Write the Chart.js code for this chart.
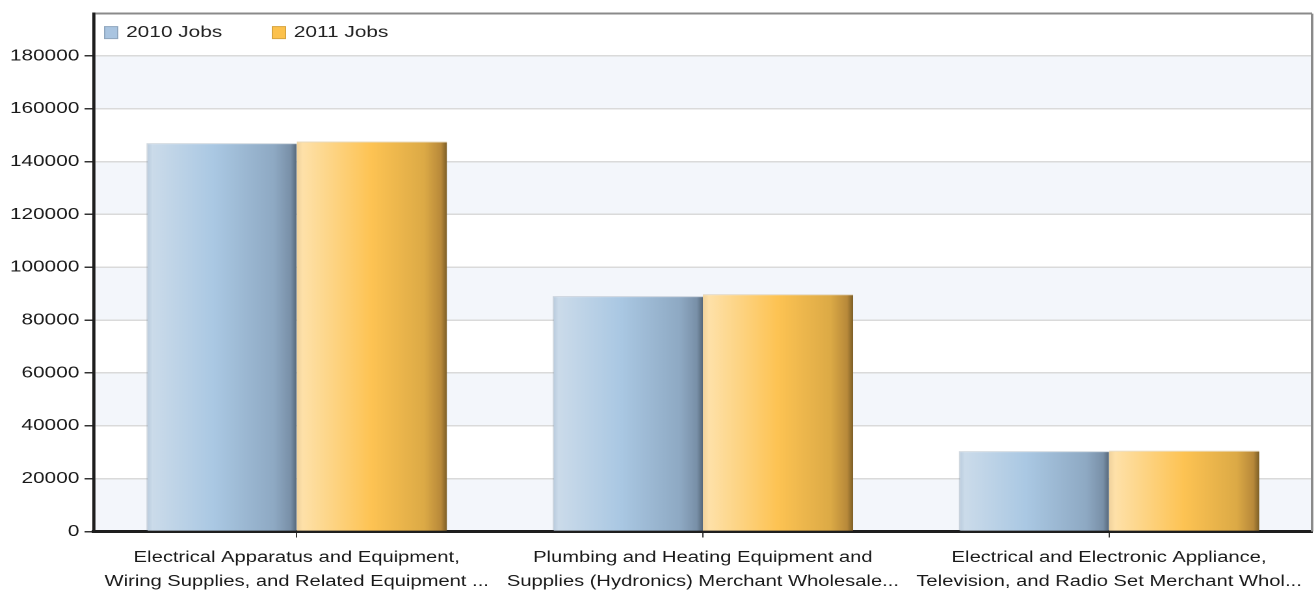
<!DOCTYPE html>
<html>
<head>
    <meta charset="UTF-8" />
    <title>Jobs 2010 vs 2011</title>
    <script src="https://cdn.jsdelivr.net/npm/chart.js"></script>
    <style>
        html, body { margin: 0; padding: 0; background: #fff; overflow: hidden; }
        /* the reference is stretched sideways, so draw narrow and widen */
        #wrap { width: 1012px; height: 593px; transform-origin: 0 0; transform: scaleX(1.3004); }
    </style>
</head>
<body>
    <div id="wrap"><canvas id="chart"></canvas></div>

    <script>
        const categories = [
            ['Electrical Apparatus and Equipment,', 'Wiring Supplies, and Related Equipment ...'],
            ['Plumbing and Heating Equipment and', 'Supplies (Hydronics) Merchant Wholesale...'],
            ['Electrical and Electronic Appliance,', 'Television, and Radio Set Merchant Whol...']
        ];
        const seriesNames = ['2010 Jobs', '2011 Jobs'];
        const jobs2010 = [147000, 89100, 30400];
        const jobs2011 = [147600, 89800, 30600];
        const yTickMax = 180000;
        const yStep = 20000;

        const font = 'Liberation Sans, Arial, sans-serif';

        // gradient stops for each series (left to right across a bar)
        const barStops = [
            [[0, '#b7c9db'], [0.04, '#cbdbea'], [0.45, '#aac8e3'], [0.85, '#8ea9c3'], [0.96, '#7990a8'], [1, '#56687a']],
            [[0, '#f0d29c'], [0.04, '#fee1a9'], [0.5, '#fdc353'], [0.85, '#dcaa46'], [0.96, '#b8893a'], [1, '#7c5e26']]
        ];
        const legendColors = ['#a9c4e0', '#fcc14c'];

        const bandsPlugin = {
            id: 'bands',
            beforeDraw(chart) {
                const { ctx, chartArea } = chart;
                const y = chart.scales.y;
                ctx.save();
                ctx.fillStyle = '#f3f6fb';
                for (let v = 0; v < yTickMax; v += yStep * 2) {
                    const top = y.getPixelForValue(v + yStep);
                    const bottom = y.getPixelForValue(v);
                    ctx.fillRect(chartArea.left, top, chartArea.right - chartArea.left, bottom - top);
                }
                ctx.restore();
            },
            beforeDatasetsDraw(chart) {
                const { ctx } = chart;
                chart.data.datasets.forEach((ds, i) => {
                    const meta = chart.getDatasetMeta(i);
                    meta.data.forEach(bar => {
                        const left = bar.x - bar.width / 2;
                        const g = ctx.createLinearGradient(left, 0, left + bar.width, 0);
                        barStops[i].forEach(s => g.addColorStop(s[0], s[1]));
                        bar.options = Object.assign({}, bar.options, { backgroundColor: g });
                    });
                });
            },
            afterDraw(chart) {
                const { ctx, chartArea } = chart;
                ctx.save();
                // right frame line
                ctx.strokeStyle = '#8a8a8a';
                ctx.lineWidth = 2;
                ctx.beginPath();
                ctx.moveTo(chartArea.right, chartArea.top);
                ctx.lineTo(chartArea.right, chartArea.bottom);
                ctx.stroke();

                // legend inside the frame
                ctx.font = '16px ' + font;
                ctx.textBaseline = 'middle';
                let x = chartArea.left + 8;
                const cy = chartArea.top + 19;
                chart.data.datasets.forEach((ds, i) => {
                    ctx.fillStyle = legendColors[i];
                    ctx.fillRect(x, cy - 6.5, 11, 13);
                    ctx.strokeStyle = 'rgba(0,0,0,0.15)';
                    ctx.lineWidth = 1;
                    ctx.strokeRect(x + 0.5, cy - 6, 10, 12);
                    ctx.fillStyle = '#222';
                    ctx.fillText(ds.label, x + 17, cy);
                    x += 129;
                });
                ctx.restore();
            }
        };

        const ctx = document.getElementById('chart');
        const graph = new Chart(ctx, {
            type: 'bar',
            data: {
                labels: categories,
                datasets: [
                    { label: seriesNames[0], data: jobs2010, borderColor: 'rgba(120,140,160,0.35)', borderWidth: { top: 1, left: 1 } },
                    { label: seriesNames[1], data: jobs2011, borderColor: 'rgba(190,150,70,0.35)', borderWidth: { top: 1, left: 0 } }
                ]
            },
            options: {
                responsive: true,
                maintainAspectRatio: false,
                animation: false,
                devicePixelRatio: 2,
                categoryPercentage: 0.74,
                barPercentage: 1,
                layout: { padding: { top: 12, right: 3, left: 4, bottom: 0 } },
                plugins: {
                    legend: { display: false },
                    tooltip: { enabled: false }
                },
                scales: {
                    x: {
                        afterFit(axis) { axis.height = 61.5; },
                        border: { color: '#1e1e1e', width: 3 },
                        grid: { offset: false, drawOnChartArea: false, tickLength: 6, tickColor: '#333', lineWidth: 1 },
                        ticks: { color: '#1a1a1a', font: { family: font, size: 15.5, lineHeight: 1.55 }, padding: 8, maxRotation: 0, autoSkip: false }
                    },
                    y: {
                        min: 0,
                        max: 196000,
                        afterFit(axis) { axis.width = 68; },
                        afterBuildTicks(axis) {
                            const t = [];
                            for (let v = 0; v <= yTickMax; v += yStep) t.push({ value: v });
                            t.push({ value: 196000 });
                            axis.ticks = t;
                        },
                        border: { color: '#1e1e1e', width: 2.4 },
                        grid: {
                            color: c => c.tick && c.tick.value > yTickMax ? '#8a8a8a' : '#dadada',
                            lineWidth: c => c.tick && c.tick.value > yTickMax ? 2 : 1.5,
                            tickColor: c => c.tick && c.tick.value > yTickMax ? 'rgba(0,0,0,0)' : '#333',
                            tickLength: 7
                        },
                        ticks: {
                            color: '#1a1a1a',
                            font: { family: font, size: 16 },
                            padding: 4,
                            callback: v => v > yTickMax ? '' : String(v)
                        }
                    }
                }
            },
            plugins: [bandsPlugin]
        });
    </script>
</body>
</html>
